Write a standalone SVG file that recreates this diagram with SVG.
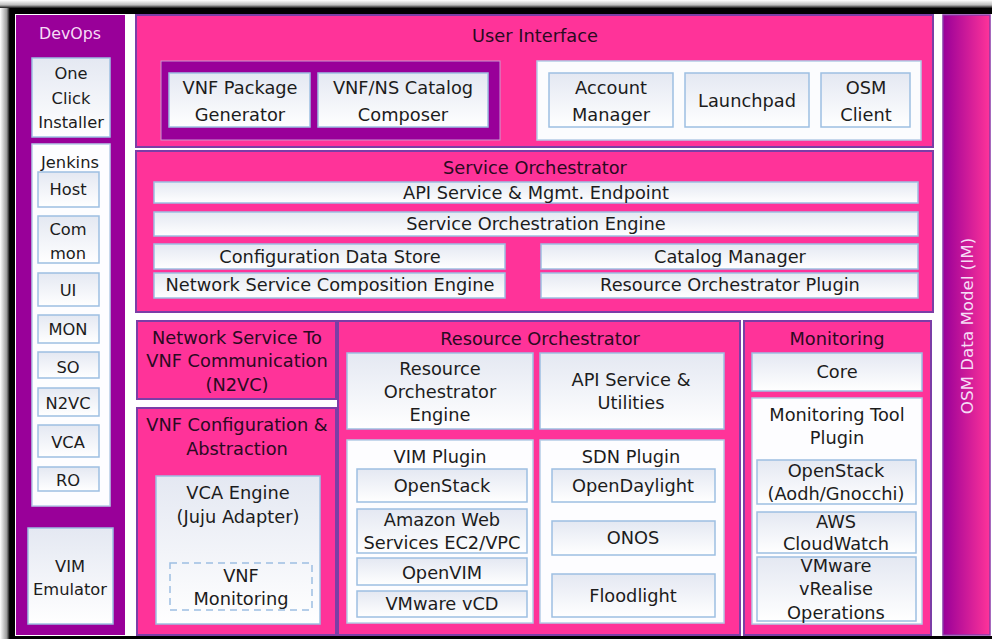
<svg xmlns="http://www.w3.org/2000/svg" width="992" height="639" viewBox="0 0 992 639">
<defs>
<linearGradient id="wg" x1="0" y1="0" x2="0" y2="1">
<stop offset="0" stop-color="#e4e8f2"/>
<stop offset="1" stop-color="#ffffff"/>
</linearGradient>
<linearGradient id="osm" x1="0" y1="0" x2="1" y2="0">
<stop offset="0" stop-color="#990099"/>
<stop offset="1" stop-color="#ff3399"/>
</linearGradient>
<linearGradient id="topshade" x1="0" y1="0" x2="0" y2="1">
<stop offset="0" stop-color="#ffffff"/>
<stop offset="0.35" stop-color="#bdbdbd"/>
<stop offset="0.6" stop-color="#000000"/>
<stop offset="1" stop-color="#000000"/>
</linearGradient>
<linearGradient id="leftshade" x1="0" y1="0" x2="1" y2="0">
<stop offset="0" stop-color="#ffffff"/>
<stop offset="0.45" stop-color="#9a9a9a"/>
<stop offset="0.65" stop-color="#000000"/>
<stop offset="1" stop-color="#000000"/>
</linearGradient>
<style>
.pink{fill:#ff3399;stroke:#7b3ea6;stroke-width:2}
.wb{fill:url(#wg);stroke:#9dbfe2;stroke-width:1.5}
.wp{fill:#fdfdff;stroke:#b4cbe6;stroke-width:1.5}
.t{font-family:"DejaVu Sans","Open Sans",sans-serif;font-size:17.8px;fill:#1c1c1c;text-anchor:middle}
.h{fill:#2a0a22}
.s{font-size:16.3px}
.lt{fill:#f6dcf6}
</style>
</defs>
<rect x="0" y="0" width="992" height="639" fill="#ffffff"/>
<rect x="0" y="0" width="992" height="14" fill="url(#topshade)"/>
<rect x="0" y="8" width="15" height="631" fill="url(#leftshade)"/>
<rect x="10" y="636" width="982" height="3" fill="#000000"/>

<g id="devops">
<rect x="16" y="15" width="109" height="620" fill="#990099"/>
<text class="t lt" style="font-size:15.8px" x="70" y="39">DevOps</text>
</g>
<g id="one-click-installer">
<rect class="wb" x="32" y="58" width="78" height="79"/>
<text class="t s" x="71" y="79">One</text>
<text class="t s" x="71" y="104">Click</text>
<text class="t s" x="71" y="128">Installer</text>
</g>
<g id="jenkins">
<rect class="wp" x="32" y="144" width="78" height="362"/>
<text class="t s" x="70" y="168">Jenkins</text>
</g>
<g id="j-host"><rect class="wb" x="38" y="172" width="61" height="35"/><text class="t s" x="68" y="195">Host</text></g>
<g id="j-common"><rect class="wb" x="38" y="216" width="61" height="47"/><text class="t s" x="68" y="235">Com</text><text class="t s" x="68" y="259">mon</text></g>
<g id="j-ui"><rect class="wb" x="38" y="273" width="61" height="33"/><text class="t s" x="68" y="296">UI</text></g>
<g id="j-mon"><rect class="wb" x="38" y="315" width="61" height="28"/><text class="t s" x="68" y="335">MON</text></g>
<g id="j-so"><rect class="wb" x="38" y="352" width="61" height="26"/><text class="t s" x="68" y="373">SO</text></g>
<g id="j-n2vc"><rect class="wb" x="38" y="388" width="61" height="28"/><text class="t s" x="68" y="409">N2VC</text></g>
<g id="j-vca"><rect class="wb" x="38" y="425" width="61" height="32"/><text class="t s" x="68" y="448">VCA</text></g>
<g id="j-ro"><rect class="wb" x="38" y="467" width="61" height="24"/><text class="t s" x="68" y="486">RO</text></g>
<g id="vim-emulator">
<rect class="wb" x="28" y="528" width="85" height="96"/>
<text class="t s" x="70" y="572">VIM</text>
<text class="t s" x="70" y="595">Emulator</text>
</g>

<g id="user-interface">
<rect class="pink" x="136" y="15" width="797" height="132"/>
<text class="t h" x="535" y="42">User Interface</text>
<rect x="161" y="61" width="339" height="79" fill="#990099" stroke="#c99ad0" stroke-width="1"/>
<rect x="537" y="61" width="384" height="79" fill="#fbfcfe" stroke="#b4cbe6" stroke-width="1.5"/>
</g>
<g id="vnf-package-generator"><rect class="wb" x="169" y="73" width="141" height="54"/><text class="t" x="240" y="94">VNF Package</text><text class="t" x="240" y="121">Generator</text></g>
<g id="catalog-composer"><rect class="wb" x="318" y="73" width="170" height="54"/><text class="t" x="403" y="94">VNF/NS Catalog</text><text class="t" x="403" y="121">Composer</text></g>
<g id="account-manager"><rect class="wb" x="549" y="73" width="124" height="54"/><text class="t" x="611" y="94">Account</text><text class="t" x="611" y="121">Manager</text></g>
<g id="launchpad"><rect class="wb" x="685" y="73" width="124" height="54"/><text class="t" x="747" y="107">Launchpad</text></g>
<g id="osm-client"><rect class="wb" x="821" y="73" width="89" height="54"/><text class="t" x="866" y="94">OSM</text><text class="t" x="866" y="121">Client</text></g>

<g id="service-orchestrator">
<rect class="pink" x="136" y="151" width="797" height="161"/>
<text class="t h" x="535" y="174">Service Orchestrator</text>
</g>
<g id="api-mgmt"><rect class="wb" x="154" y="182" width="764" height="21"/><text class="t" x="536" y="199">API Service &amp; Mgmt. Endpoint</text></g>
<g id="so-engine"><rect class="wb" x="154" y="212" width="764" height="24"/><text class="t" x="536" y="230">Service Orchestration Engine</text></g>
<g id="config-data-store"><rect class="wb" x="154" y="244" width="351" height="25"/><text class="t" x="330" y="263">Configuration Data Store</text></g>
<g id="ns-composition"><rect class="wb" x="154" y="273" width="351" height="25"/><text class="t" x="330" y="291">Network Service Composition Engine</text></g>
<g id="catalog-manager"><rect class="wb" x="541" y="244" width="377" height="25"/><text class="t" x="730" y="263">Catalog Manager</text></g>
<g id="ro-plugin"><rect class="wb" x="541" y="273" width="377" height="25"/><text class="t" x="730" y="291">Resource Orchestrator Plugin</text></g>

<g id="n2vc">
<rect class="pink" x="137" y="321" width="199" height="78"/>
<text class="t h" x="237" y="344">Network Service To</text>
<text class="t h" x="237" y="367">VNF Communication</text>
<text class="t h" x="237" y="391">(N2VC)</text>
</g>
<g id="vnf-config">
<rect class="pink" x="137" y="408" width="199" height="227"/>
<text class="t h" x="237" y="431">VNF Configuration &amp;</text>
<text class="t h" x="237" y="455">Abstraction</text>
</g>
<g id="vca-engine">
<rect class="wb" x="156" y="476" width="164" height="148"/>
<text class="t" x="238" y="499">VCA Engine</text>
<text class="t" x="238" y="523">(Juju Adapter)</text>
</g>
<g id="vnf-monitoring">
<rect x="170" y="563" width="142" height="47" fill="none" stroke="#9dbfe2" stroke-width="1.5" stroke-dasharray="7 5"/>
<text class="t" x="241" y="582">VNF</text>
<text class="t" x="241" y="605">Monitoring</text>
</g>

<g id="resource-orchestrator">
<rect class="pink" x="338" y="321" width="402" height="314"/>
<text class="t h" x="540" y="345">Resource Orchestrator</text>
</g>
<g id="ro-engine"><rect class="wb" x="347" y="353" width="186" height="76"/><text class="t" x="440" y="375">Resource</text><text class="t" x="440" y="398">Orchestrator</text><text class="t" x="440" y="421">Engine</text></g>
<g id="api-utilities"><rect class="wb" x="540" y="353" width="184" height="76"/><text class="t" x="631" y="386">API Service &amp;</text><text class="t" x="631" y="409">Utilities</text></g>
<g id="vim-plugin"><rect class="wp" x="347" y="440" width="186" height="183"/><text class="t" x="440" y="463">VIM Plugin</text></g>
<g id="vim-openstack"><rect class="wb" x="357" y="469" width="170" height="33"/><text class="t" x="442" y="492">OpenStack</text></g>
<g id="vim-aws"><rect class="wb" x="357" y="509" width="170" height="44"/><text class="t" x="442" y="526">Amazon Web</text><text class="t" x="442" y="549">Services EC2/VPC</text></g>
<g id="vim-openvim"><rect class="wb" x="357" y="558" width="170" height="27"/><text class="t" x="442" y="579">OpenVIM</text></g>
<g id="vim-vmware"><rect class="wb" x="357" y="591" width="170" height="26"/><text class="t" x="442" y="610">VMware vCD</text></g>
<g id="sdn-plugin"><rect class="wp" x="540" y="440" width="184" height="183"/><text class="t" x="631" y="463">SDN Plugin</text></g>
<g id="sdn-odl"><rect class="wb" x="552" y="469" width="163" height="33"/><text class="t" x="633" y="492">OpenDaylight</text></g>
<g id="sdn-onos"><rect class="wb" x="552" y="521" width="163" height="34"/><text class="t" x="633" y="544">ONOS</text></g>
<g id="sdn-floodlight"><rect class="wb" x="552" y="574" width="163" height="43"/><text class="t" x="633" y="602">Floodlight</text></g>

<g id="monitoring">
<rect class="pink" x="744" y="321" width="187" height="314"/>
<text class="t h" x="837" y="345">Monitoring</text>
</g>
<g id="mon-core"><rect class="wb" x="752" y="353" width="170" height="38"/><text class="t" x="837" y="378">Core</text></g>
<g id="mon-tool-plugin"><rect class="wp" x="752" y="398" width="170" height="226"/><text class="t" x="837" y="421">Monitoring Tool</text><text class="t" x="837" y="444">Plugin</text></g>
<g id="mon-openstack"><rect class="wb" x="757" y="460" width="159" height="44"/><text class="t" x="836" y="477">OpenStack</text><text class="t" x="836" y="500">(Aodh/Gnocchi)</text></g>
<g id="mon-aws"><rect class="wb" x="757" y="512" width="159" height="41"/><text class="t" x="836" y="528">AWS</text><text class="t" x="836" y="550">CloudWatch</text></g>
<g id="mon-vmware"><rect class="wb" x="757" y="557" width="159" height="64"/><text class="t" x="836" y="572">VMware</text><text class="t" x="836" y="595">vRealise</text><text class="t" x="836" y="619">Operations</text></g>

<g id="osm-data-model">
<rect x="943" y="15" width="47" height="620" fill="url(#osm)" stroke="#8a3aa8" stroke-width="1.5"/>
<text class="t lt" style="font-size:16.7px" transform="translate(973 326) rotate(-90)">OSM Data Model (IM)</text>
</g>
<g id="connectors"/>
</svg>
